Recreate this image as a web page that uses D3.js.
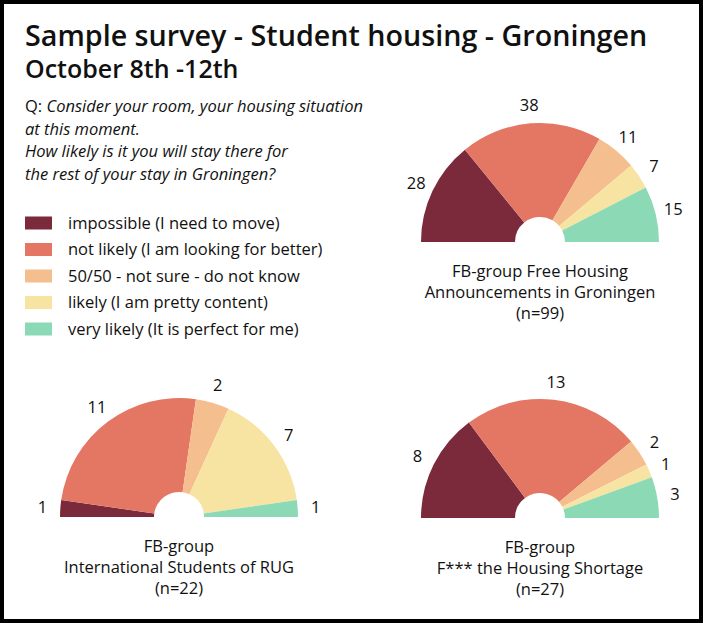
<!DOCTYPE html>
<html>
<head>
<meta charset="utf-8">
<script src="https://cdn.jsdelivr.net/npm/d3@7"></script>
<style>
  body { margin: 0; background: #fff; }
  text { font-family: "Open Sans", "Noto Sans", sans-serif; fill: #111; }
</style>
</head>
<body>
<svg id="chart"></svg>
<script>
// answer categories and their colours
const categories = [
  "impossible (I need to move)",
  "not likely (I am looking for better)",
  "50/50 - not sure - do not know",
  "likely (I am pretty content)",
  "very likely (It is perfect for me)"
]
const colors = ["#7b2a3c", "#e47764", "#f5be8e", "#f7e4a2", "#8bdab5"]

// counts per facebook group
const freeHousing = [28, 38, 11, 7, 15]
const intlStudents = [1, 11, 2, 7, 1]
const housingShortage = [8, 13, 2, 1, 3]

const groupTitles = [
  ["FB-group Free Housing", "Announcements in Groningen", "(n=99)"],
  ["FB-group", "International Students of RUG", "(n=22)"],
  ["FB-group", "F*** the Housing Shortage", "(n=27)"]
]

const question = [
  "Consider your room, your housing situation",
  "at this moment.",
  "How likely is it you will stay there for",
  "the rest of your stay in Groningen?"
]

const W = 703, H = 623
const R_OUT = 119, R_IN = 25, R_LABEL = 137
const FS = 16.5

const svg = d3.select('#chart')
    .attr('width', W)
    .attr('height', H)

// frame
svg.append('rect')
    .attr('x', 2).attr('y', 2)
    .attr('width', W - 4).attr('height', H - 4)
    .attr('fill', '#fff')
    .attr('stroke', '#000')
    .attr('stroke-width', 4)

// titles
svg.append('text')
    .attr('x', 25).attr('y', 46)
    .attr('font-size', 28.7)
    .attr('font-weight', 600)
    .text('Sample survey - Student housing - Groningen')

svg.append('text')
    .attr('x', 25).attr('y', 78)
    .attr('font-size', 25)
    .attr('font-weight', 600)
    .text('October 8th -12th')

// question
const q = svg.append('g').attr('font-size', FS)
q.selectAll('text')
    .data(question)
    .enter()
    .append('text')
    .attr('x', 25)
    .attr('y', (d, i) => 112 + i * 22.5)
    .each(function(d, i) {
        const t = d3.select(this)
        if (i === 0) t.append('tspan').text('Q: ')
        t.append('tspan').attr('font-style', 'italic').text(d)
    })

// legend
const legend = svg.append('g')
    .selectAll('.legend')
    .data(categories)
    .enter()
    .append('g')
    .classed('legend', true)
    .attr('transform', (d, i) => `translate(25, ${223 + i * 26.5})`)

legend.append('rect')
    .attr('x', 0).attr('y', -6.5)
    .attr('width', 27).attr('height', 13)
    .attr('fill', (d, i) => colors[i])

legend.append('text')
    .attr('x', 43)
    .attr('y', 0)
    .attr('dy', '0.35em')
    .attr('font-size', FS)
    .text(d => d)

// half pies
const pie = d3.pie()
    .sort(null)
    .startAngle(-Math.PI / 2)
    .endAngle(Math.PI / 2)

const arc = d3.arc().innerRadius(R_IN).outerRadius(R_OUT)
const labelArc = d3.arc().innerRadius(R_LABEL).outerRadius(R_LABEL)

const groups = [
    { values: freeHousing, cx: 540, cy: 242 },
    { values: intlStudents, cx: 179, cy: 517 },
    { values: housingShortage, cx: 540, cy: 518 }
]

groups.forEach((grp, gi) => {
    const g = svg.append('g')
        .attr('transform', `translate(${grp.cx}, ${grp.cy})`)

    const slices = pie(grp.values)

    g.selectAll('.slice')
        .data(slices)
        .enter()
        .append('path')
        .classed('slice', true)
        .attr('d', arc)
        .attr('fill', (d, i) => colors[i])

    g.selectAll('.label')
        .data(slices)
        .enter()
        .append('text')
        .classed('label', true)
        .attr('transform', d => `translate(${labelArc.centroid(d)})`)
        .attr('text-anchor', 'middle')
        .attr('dy', '0.35em')
        .attr('font-size', FS)
        .text(d => d.data)

    g.selectAll('.title')
        .data(groupTitles[gi])
        .enter()
        .append('text')
        .classed('title', true)
        .attr('x', 0)
        .attr('y', (d, i) => 35 + i * 21)
        .attr('text-anchor', 'middle')
        .attr('font-size', FS)
        .text(d => d)
})
</script>
</body>
</html>
